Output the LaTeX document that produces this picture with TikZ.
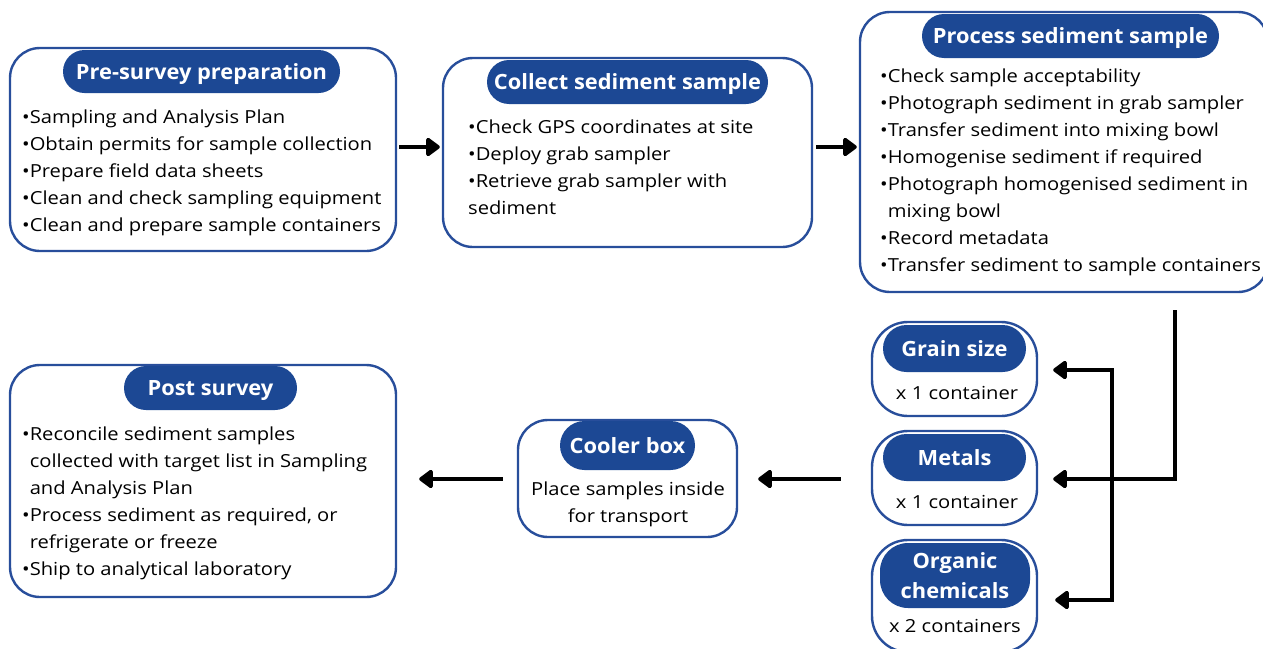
\documentclass[tikz,border=0pt]{standalone}
\usepackage{fontspec}
\setmainfont{Open Sans}
\newfontfamily\bodyfont{Open Sans}[FakeStretch=1.12]
\newfontfamily\headfont{Open Sans}[FakeStretch=1.04]
\usetikzlibrary{arrows.meta}
\definecolor{mainblue}{RGB}{28,72,148}
\definecolor{edgeblue}{RGB}{40,78,155}
\tikzset{
  box/.style={draw=edgeblue, line width=2.4pt, fill=white, rounded corners=30pt, inner sep=0pt},
  pill/.style={fill=mainblue, text=white, inner sep=0pt, align=center,
    font=\headfont\fontsize{21}{27}\selectfont\bfseries},
  pillone/.style={pill, text height=16pt, text depth=0.5pt},
  body/.style={inner sep=0pt, align=left, anchor=north west, font=\bodyfont\fontsize{18}{27}\selectfont},
  cbody/.style={inner sep=0pt, align=center, anchor=north, font=\bodyfont\fontsize{18}{27}\selectfont},
  arr/.style={line width=4.6pt, -{Triangle[length=15pt,width=21pt,round]}},
  plain/.style={line width=4.6pt}
}
\newcommand{\st}{\rule{0pt}{14pt}}
\newcommand{\ind}{\phantom{•}}
\begin{document}
\begin{tikzpicture}[x=1pt,y=-1pt]
\useasboundingbox (0,0) rectangle (1263,648);
% boxes
\node[box, minimum width=386pt, minimum height=203pt] (pre) at (203,149.5) {};
\node[box, minimum width=369pt, minimum height=189pt] (collect) at (627.5,152.5) {};
\node[box, minimum width=408pt, minimum height=280pt] (process) at (1064,152) {};
\node[box, rounded corners=36pt, minimum width=165pt, minimum height=94pt] (grain) at (954.5,369) {};
\node[box, rounded corners=36pt, minimum width=165pt, minimum height=94pt] (metals) at (954.5,478) {};
\node[box, rounded corners=36pt, minimum width=165pt, minimum height=112pt] (organic) at (954.5,596) {};
\node[box, minimum width=219pt, minimum height=117pt] (cooler) at (627.5,478.5) {};
\node[box, minimum width=386pt, minimum height=232pt] (post) at (203,481) {};
% pills
\node[pillone, rounded corners=21.5pt, minimum width=277pt, minimum height=43pt] (preh) at (201.5,71.5) {Pre-survey preparation};
\node[pillone, rounded corners=22pt, minimum width=281pt, minimum height=44pt] (collecth) at (627.5,82) {Collect sediment sample};
\node[pillone, rounded corners=22pt, minimum width=297pt, minimum height=44pt] (processh) at (1070.5,36) {Process sediment sample};
\node[pillone, rounded corners=23.5pt, minimum width=143pt, minimum height=47pt] (grainh) at (954.5,348.5) {Grain size};
\node[pillone, rounded corners=23.5pt, minimum width=143pt, minimum height=47pt] (metalsh) at (954.5,457.5) {Metals};
\node[pill, rounded corners=28pt, minimum width=150pt, minimum height=65pt, font=\headfont\fontsize{21}{30}\selectfont\bfseries] (organich) at (955,575.5) {Organic\\chemicals};
\node[pillone, rounded corners=24.5pt, minimum width=135pt, minimum height=49pt] (coolerh) at (627.5,445.5) {Cooler box};
\node[pillone, rounded corners=22pt, minimum width=173pt, minimum height=44pt] (posth) at (210.5,388) {Post survey};
% body texts
\node[body] (pret) at (22,109) {\st•Sampling and Analysis Plan\\•Obtain permits for sample collection\\•Prepare field data sheets\\•Clean and check sampling equipment\\•Clean and prepare sample containers};
\node[body] (collectt) at (468,119) {\st•Check GPS coordinates at site\\•Deploy grab sampler\\•Retrieve grab sampler with\\sediment};
\node[body] (processt) at (880,68) {\st•Check sample acceptability\\•Photograph sediment in grab sampler\\•Transfer sediment into mixing bowl\\•Homogenise sediment if required\\•Photograph homogenised sediment in\\\ind mixing bowl\\•Record metadata\\•Transfer sediment to sample containers};
\node[cbody] (graint) at (957,385) {\st x 1 container};
\node[cbody] (metalst) at (957,494) {\st x 1 container};
\node[cbody] (organict) at (955,618) {\st x 2 containers};
\node[cbody] (coolert) at (628,481) {\st Place samples inside\\for transport};
\node[body] (postt) at (22,426) {\st•Reconcile sediment samples\\\ind collected with target list in Sampling\\\ind and Analysis Plan\\•Process sediment as required, or\\\ind refrigerate or freeze\\•Ship to analytical laboratory};
% connectors
\coordinate (s) at (1175,310);
\coordinate (bt) at (1112,370);
\coordinate (bb) at (1112,600);
\draw[arr, shorten <=2pt, shorten >=2pt] (pre.east |- 0,147) -- (collect.west |- 0,147);
\draw[arr, shorten <=3pt, shorten >=2pt] (collect.east |- 0,147) -- (process.west |- 0,147);
\draw[arr, shorten >=15pt] (s) -- (s |- 0,479) -- (metals.east |- 0,479);
\draw[plain, {Triangle[length=15pt,width=21pt,round]}-{Triangle[length=15pt,width=21pt,round]}, shorten <=15pt, shorten >=17pt] (grain.east |- bt) -- (bt) -- (bb) -- (organic.east |- bb);
\draw[arr, shorten <=30pt, shorten >=20pt] (metals.west |- 0,479) -- (cooler.east |- 0,479);
\draw[arr, shorten <=14pt, shorten >=22pt] (cooler.west |- 0,479) -- (post.east |- 0,479);
\end{tikzpicture}
\end{document}
